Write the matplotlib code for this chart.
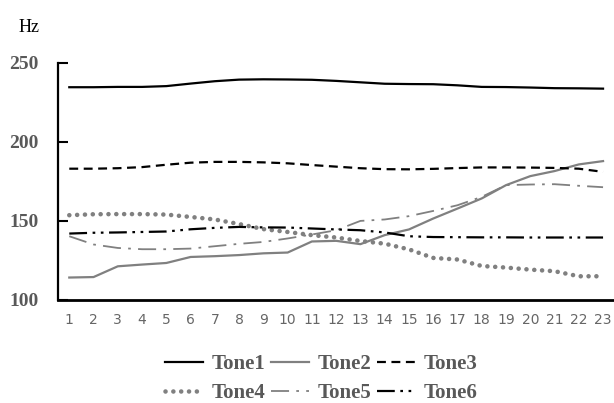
import matplotlib
matplotlib.use("Agg")
import matplotlib.pyplot as plt

x = list(range(1, 24))
tone1 = [234.5, 234.5, 234.7, 234.7, 235.2, 236.8, 238.3, 239.3, 239.5, 239.4, 239.2, 238.5,
         237.6, 236.7, 236.5, 236.4, 235.7, 234.7, 234.6, 234.3, 233.9, 233.8, 233.6]
tone2 = [114.2, 114.5, 121.3, 122.4, 123.4, 127.2, 127.7, 128.4, 129.5, 130.0, 137.0, 137.4,
         135.3, 141.0, 144.6, 151.5, 157.8, 164.2, 172.6, 178.3, 181.5, 185.7, 187.8]
tone3 = [183.0, 183.0, 183.3, 184.0, 185.5, 186.8, 187.3, 187.3, 187.0, 186.4, 185.3, 184.3,
         183.3, 182.7, 182.6, 182.9, 183.4, 183.8, 183.8, 183.7, 183.5, 183.0, 181.0]
tone4 = [153.6, 154.2, 154.3, 154.3, 154.0, 152.5, 150.9, 148.0, 144.8, 143.0, 141.0, 139.5,
         137.3, 135.6, 132.0, 126.6, 125.6, 121.5, 120.5, 119.2, 118.2, 115.0, 115.0]
tone5 = [140.3, 135.1, 132.9, 132.1, 132.1, 132.5, 134.0, 135.5, 136.7, 138.9, 141.4, 144.1,
         150.0, 150.9, 153.0, 156.3, 159.9, 165.2, 172.6, 173.0, 173.2, 172.2, 171.3]
tone6 = [142.0, 142.5, 142.7, 143.0, 143.3, 144.7, 145.6, 146.2, 145.9, 145.8, 145.2, 144.6,
         144.1, 142.7, 140.3, 139.8, 139.7, 139.6, 139.6, 139.5, 139.5, 139.5, 139.5]
labels = ["Tone1", "Tone2", "Tone3", "Tone4", "Tone5", "Tone6"]
yticks = [100, 150, 200, 250]

gray = "#808080"
txt = "#595959"

fig = plt.figure(figsize=(6.14, 4.03), dpi=100)
ax = fig.add_axes([58/614, 1-300/403, (613-58)/614, (300-62.7)/403])

h1, = ax.plot(x, tone1, color="black", lw=1.6, ls="-")
h2, = ax.plot(x, tone2, color=gray, lw=1.6, ls="-")
h3, = ax.plot(x, tone3, color="black", lw=1.6, ls=(0, (4, 2.5)))
h4, = ax.plot(x, tone4, color=gray, lw=3.3, ls=(0, (0.01, 1.7)), dash_capstyle="round")
h5, = ax.plot(x, tone5, color=gray, lw=1.3, ls=(0, (10, 4, 1.5, 4)))
h6, = ax.plot(x, tone6, color="black", lw=1.6, ls=(0, (8, 2.5, 1.2, 2.5, 1.2, 2.5)))

ax.set_xlim(0.535, 23.41)
ax.set_ylim(100, 250)
ax.set_xticks(x)
ax.set_xticklabels([str(i) for i in x], fontsize=10, color="#666666", family="DejaVu Sans")
ax.set_yticks(yticks)
ax.set_yticklabels([str(v) for v in yticks], fontsize=14, color=txt,
                   family="Liberation Serif", fontweight="bold")
ax.tick_params(axis="x", length=0, pad=9)
ax.tick_params(axis="y", direction="in", length=7, width=1.5, pad=14)
for s in ["top", "right"]:
    ax.spines[s].set_visible(False)
ax.spines["left"].set_linewidth(1.6)
ax.spines["bottom"].set_linewidth(2.0)

fig.text(19/614, 1-27/403, "Hz", fontsize=13, family="Liberation Serif", color="black",
         va="center", ha="left")

handles = [h1, h4, h2, h5, h3, h6]
order_labels = [labels[0], labels[3], labels[1], labels[4], labels[2], labels[5]]
leg = fig.legend(handles, order_labels, ncol=3, loc="upper center",
                 bbox_to_anchor=(0.523, 1-344/403), frameon=False, handlelength=1.85,
                 columnspacing=0.25, handletextpad=0.4, labelspacing=0.42, borderpad=0,
                 prop={"family": "Liberation Serif", "weight": "bold", "size": 15})
for t in leg.get_texts():
    t.set_color(txt)

fig.savefig("out.png", dpi=100)
